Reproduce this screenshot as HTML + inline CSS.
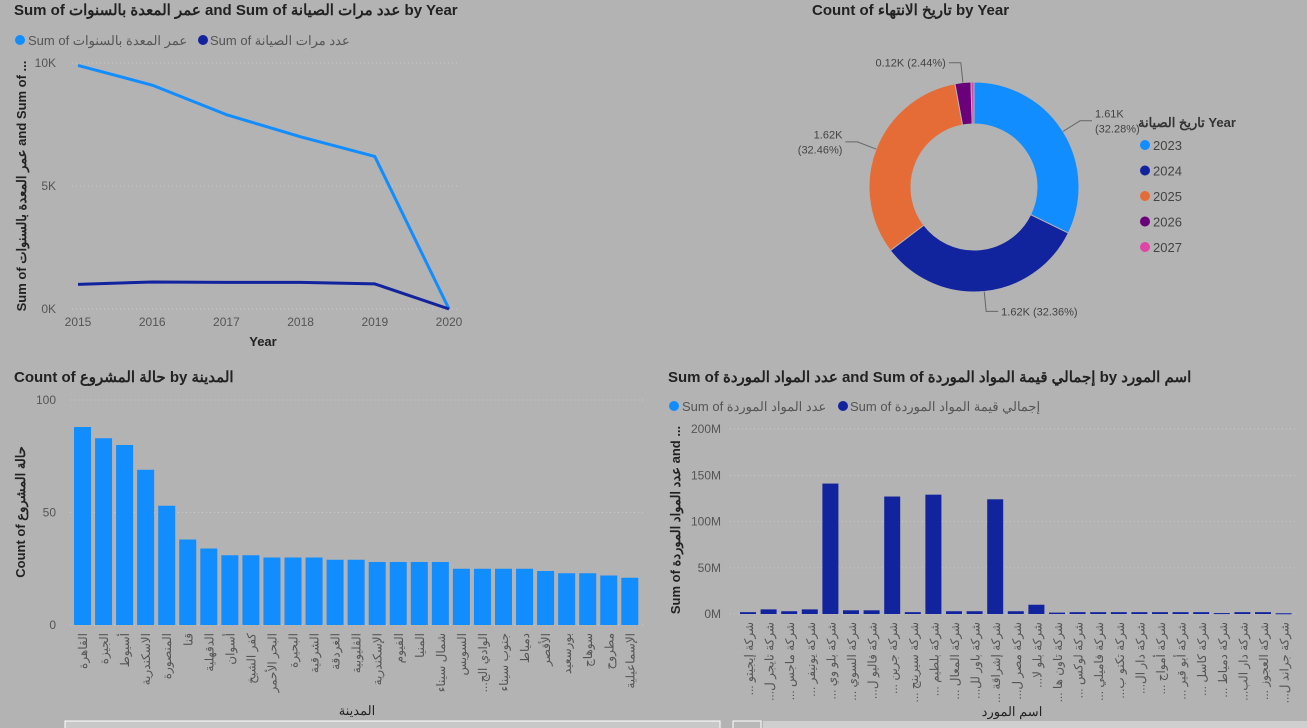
<!DOCTYPE html>
<html><head><meta charset="utf-8">
<style>
html,body{margin:0;padding:0;background:#b3b3b3;width:1307px;height:728px;overflow:hidden}
svg{position:absolute;left:0;top:0;font-family:"Liberation Sans","Noto Sans CJK SC",sans-serif}
</style></head>
<body>
<svg id="s" width="1307" height="728">
<g id="tl">
<text x="14" y="15" font-size="15" font-weight="bold" fill="#222">Sum of عمر المعدة بالسنوات and Sum of عدد مرات الصيانة by Year</text>
<circle cx="20" cy="40" r="5" fill="#118dff"/>
<text x="28" y="45" font-size="13" fill="#555">Sum of عمر المعدة بالسنوات</text>
<circle cx="203" cy="40" r="5" fill="#12239e"/>
<text x="210" y="45" font-size="13" fill="#555">Sum of عدد مرات الصيانة</text>
<text transform="translate(26,186) rotate(-90)" text-anchor="middle" font-size="13" font-weight="bold" fill="#222">Sum of عمر المعدة بالسنوات and Sum of ...</text>
<text x="263" y="346" text-anchor="middle" font-size="13" font-weight="bold" fill="#222">Year</text>
</g>
<g id="tr">
<text x="812" y="15" font-size="15" font-weight="bold" fill="#222">Count of تاريخ الانتهاء by Year</text>
<text x="1138" y="127" font-size="13" font-weight="bold" fill="#333">تاريخ الصيانة Year</text>
</g>
<g id="bl">
<text x="14" y="382" font-size="15" font-weight="bold" fill="#222">Count of حالة المشروع by المدينة</text>
<text transform="translate(25,512) rotate(-90)" text-anchor="middle" font-size="13" font-weight="bold" fill="#222">Count of حالة المشروع</text>
<text x="357" y="715" text-anchor="middle" font-size="13" fill="#222">المدينة</text>
<rect x="65" y="721" width="655" height="10" fill="#c8c8c8" stroke="#fff"/>
</g>
<g id="br">
<text x="668" y="382" font-size="15" font-weight="bold" fill="#222">Sum of عدد المواد الموردة and Sum of إجمالي قيمة المواد الموردة by اسم المورد</text>
<circle cx="674" cy="406" r="5" fill="#118dff"/>
<text x="682" y="411" font-size="13" fill="#555">Sum of عدد المواد الموردة</text>
<circle cx="843" cy="406" r="5" fill="#12239e"/>
<text x="850" y="411" font-size="13" fill="#555">Sum of إجمالي قيمة المواد الموردة</text>
<text transform="translate(680,520) rotate(-90)" text-anchor="middle" font-size="13" font-weight="bold" fill="#222">Sum of عدد المواد الموردة and ...</text>
<text x="1012" y="716" text-anchor="middle" font-size="13" fill="#222">اسم المورد</text>
<rect x="763" y="721" width="544" height="10" fill="#cfcfcf"/>
<rect x="733" y="721" width="28" height="10" fill="#b8b8b8" stroke="#fff"/>
</g>
</svg>
<script>
const years=["2015","2016","2017","2018","2019","2020"];
const ageVals=[9900,9100,7900,7000,6200,0];
const maintVals=[1000,1100,1080,1080,1020,0];
const lineTicks=[0,5000,10000];
const lineTickLabels=["0K","5K","10K"];

const donutYears=["2023","2024","2025","2026","2027"];
const donutVals=[1610,1620,1620,122,23];
const donutLabels=["1.61K\n(32.28%)","1.62K (32.36%)","1.62K\n(32.46%)","0.12K (2.44%)",""];
const donutColors=["#118dff","#12239e","#e66c37","#6b007b","#e044a7"];

const cities=["القاهرة","الجيزة","أسيوط","الاسكندرية","المنصورة","قنا","الدقهلية","أسوان","كفر الشيخ","البحر الأحمر","البحيرة","الشرقية","الغردقة","القليوبية","الإسكندرية","الفيوم","المنيا","شمال سيناء","السويس","الوادي الج...","جنوب سيناء","دمياط","الأقصر","بورسعيد","سوهاج","مطروح","الإسماعيلية"];
const cityVals=[88,83,80,69,53,38,34,31,31,30,30,30,29,29,28,28,28,28,25,25,25,25,24,23,23,22,21];
const cityTicks=[0,50,100];

const suppliers=["شركة إيجيتو ...","شركة تايجر ل...","شركة ماجس ...","شركة يونيفر ...","شركة بلو وي ...","شركة السوي ...","شركة فاليو ل...","شركة جرين ...","شركة سيرينج ...","شركة بلطيم ...","شركة المعال ...","شركة باور لل...","شركة إشراقة ...","شركة مصر ل...","شركة بلو لا...","شركة تاون ها ...","شركة لوكس ...","شركة فاميلي ...","شركة تكنو ب...","شركة دار ال...","شركة أمواج ...","شركة أبو قير ...","شركة كاسل ...","شركة دمياط ...","شركة دار الب...","شركة العجوز ...","شركة جراند ل..."];
const supplierVals=[2,5,3,5,141,4,4,127,2,129,3,3,124,3,10,1.5,2,2,2,2,2,2,2,1,2,2,0.8];
const supTicks=[0,50,100,150,200];

const NS="http://www.w3.org/2000/svg";
function mk(parent,tag,attrs){const e=document.createElementNS(NS,tag);for(const k in attrs)e.setAttribute(k,attrs[k]);parent.appendChild(e);return e;}

// line chart
const tl=document.getElementById('tl');
const lx=i=>78+i*(449-78)/(years.length-1);
const ly=v=>309-v*(309-63)/10000;
lineTicks.forEach((t,i)=>{
  const g=mk(tl,'line',{x1:72,x2:460,y1:ly(t),y2:ly(t),stroke:'#c8c8c8','stroke-dasharray':'1,3'});
  
  
  const tx=mk(tl,'text',{x:56,y:ly(t)+4,'text-anchor':'end','font-size':12,fill:'#555'});
  tx.textContent=lineTickLabels[i];
  
  
});
years.forEach((y,i)=>{
  const tx=mk(tl,'text',{x:lx(i),y:326,'text-anchor':'middle','font-size':12,fill:'#555'});
  tx.textContent=y;
  
  
});
[[ageVals,'#118dff','line-age'],[maintVals,'#12239e','line-maint']].forEach(([vals,c,n])=>{
  const p=mk(tl,'polyline',{points:vals.map((v,i)=>lx(i)+','+ly(v)).join(' '),fill:'none',stroke:c,'stroke-width':3,'stroke-linejoin':'round'});
  
  
});

// donut
const tr=document.getElementById('tr');
const cx=974,cy=187,R=105,r=63;
const tot=donutVals.reduce((a,b)=>a+b,0);
let a0=0;
donutVals.forEach((v,i)=>{
  const a1=a0+v/tot*2*Math.PI;
  const pt=(rad,a)=>[cx+rad*Math.sin(a),cy-rad*Math.cos(a)];
  const large=(a1-a0)>Math.PI?1:0;
  const [x1,y1]=pt(R,a0),[x2,y2]=pt(R,a1),[x3,y3]=pt(r,a1),[x4,y4]=pt(r,a0);
  const p=mk(tr,'path',{d:`M${x1},${y1}A${R},${R} 0 ${large} 1 ${x2},${y2}L${x3},${y3}A${r},${r} 0 ${large} 0 ${x4},${y4}Z`,fill:donutColors[i],stroke:'#b3b3b3','stroke-width':1});
  
  
  const am=(a0+a1)/2;
  if(donutLabels[i]){
    const [lx1,ly1]=pt(R,am),[lx2,ly2]=pt(R+20,am);
    const right=Math.sin(am)>=0;
    const ln=mk(tr,'polyline',{points:`${lx1},${ly1} ${lx2},${ly2} ${lx2+(right?12:-12)},${ly2}`,fill:'none',stroke:'#666'});
    
    
    const lines=donutLabels[i].split('\n');
    lines.forEach((s,k)=>{
      const t=mk(tr,'text',{x:lx2+(right?15:-15),y:ly2+4+(k-(lines.length-1)/2)*15,'text-anchor':right?'start':'end','font-size':11,fill:'#444'});
      t.textContent=s;
      
      
    });
  }
  a0=a1;
});
donutYears.forEach((y,i)=>{
  const c=mk(tr,'circle',{cx:1145,cy:145+i*25.5,r:5,fill:donutColors[i]});
  
  
  const t=mk(tr,'text',{x:1153,y:150+i*25.5,'font-size':13,fill:'#444'});
  t.textContent=y;
  
  
});

// city bars
const bl=document.getElementById('bl');
const by=v=>625-v*(625-400)/100;
cityTicks.forEach(t=>{
  const g=mk(bl,'line',{x1:70,x2:645,y1:by(t),y2:by(t),stroke:'#c8c8c8','stroke-dasharray':'1,3'});
  
  
  const tx=mk(bl,'text',{x:56,y:by(t)+4,'text-anchor':'end','font-size':12,fill:'#555'});
  tx.textContent=t;
  
  
});
cities.forEach((c,i)=>{
  const x=74+i*21.05;
  const b=mk(bl,'rect',{x:x,y:by(cityVals[i]),width:17,height:by(0)-by(cityVals[i]),fill:'#118dff'});
  
  
  const t=mk(bl,'text',{transform:`translate(${x+13},633) rotate(-90)`,direction:'rtl','text-anchor':'start','font-size':12,fill:'#555'});
  t.textContent=c;
  
  
});

// supplier bars
const br=document.getElementById('br');
const sy=v=>614-v*(614-429)/200;
supTicks.forEach(t=>{
  const g=mk(br,'line',{x1:730,x2:1295,y1:sy(t),y2:sy(t),stroke:'#c8c8c8','stroke-dasharray':'1,3'});
  
  
  const tx=mk(br,'text',{x:721,y:sy(t)+4,'text-anchor':'end','font-size':12,fill:'#555'});
  tx.textContent=t+'M';
  
  
});
suppliers.forEach((c,i)=>{
  const x=740+i*20.6;
  const b=mk(br,'rect',{x:x,y:sy(supplierVals[i]),width:16,height:Math.max(1,sy(0)-sy(supplierVals[i])),fill:'#12239e'});
  
  
  const t=mk(br,'text',{transform:`translate(${x+13},622) rotate(-90)`,direction:'rtl','text-anchor':'start','font-size':12,fill:'#555'});
  t.textContent=c;
  
  
});
</script>
</body></html>
